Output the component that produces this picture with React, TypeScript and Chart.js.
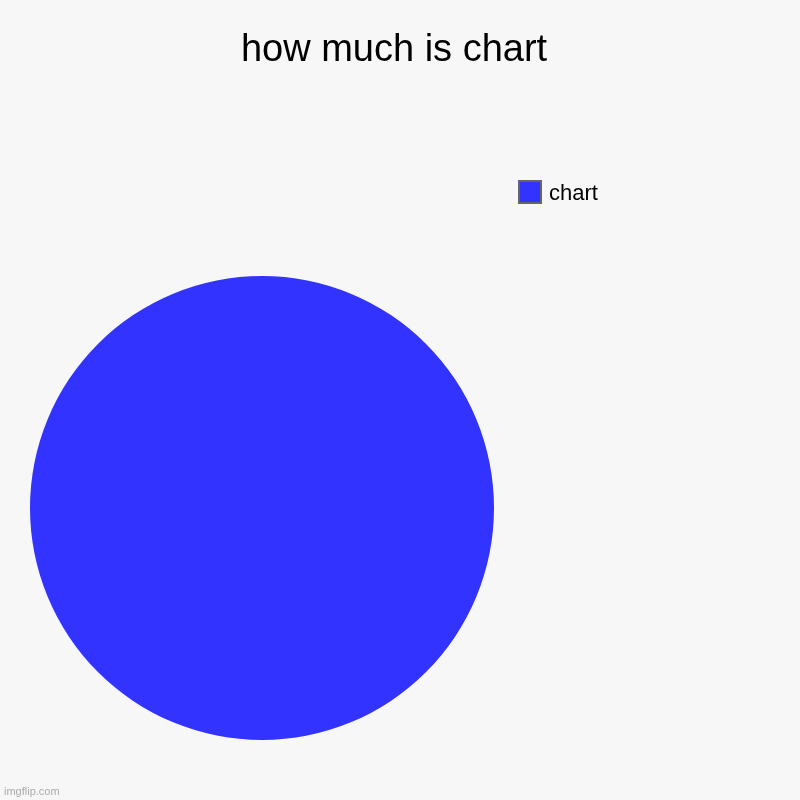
import React, { useEffect, useRef } from "react";
import { Chart, registerables, Plugin } from "chart.js";

Chart.register(...registerables);

const labels = ["chart"];
const values = [100];
const colors = ["#3333ff"];
const chartTitle = "how much is chart";
const watermark = "imgflip.com";

const FONT = "'Liberation Sans', Arial, Helvetica, sans-serif";

const imgflipPlugin: Plugin<"pie"> = {
  id: "imgflip",
  beforeDraw(chart) {
    const ctx = chart.ctx;
    ctx.save();
    ctx.fillStyle = "#f7f7f7";
    ctx.fillRect(0, 0, chart.width, chart.height);
    ctx.restore();
  },
  afterDraw(chart) {
    const ctx = chart.ctx;
    ctx.save();

    // title
    ctx.fillStyle = "#000";
    ctx.font = `38px ${FONT}`;
    ctx.textAlign = "center";
    ctx.textBaseline = "alphabetic";
    ctx.fillText(chartTitle, 394, 61);

    // legend
    const names = (chart.data.labels || []) as string[];
    const bg = chart.data.datasets[0].backgroundColor as string[];
    names.forEach((name, i) => {
      const y = 180 + i * 34;
      ctx.fillStyle = bg[i];
      ctx.fillRect(518, y, 24, 24);
      ctx.strokeStyle = "#666";
      ctx.lineWidth = 2;
      ctx.strokeRect(519, y + 1, 22, 22);
      ctx.fillStyle = "#000";
      ctx.font = `22px ${FONT}`;
      ctx.textAlign = "left";
      ctx.fillText(name, 549, y + 20);
    });

    // watermark
    ctx.fillStyle = "#aaa";
    ctx.font = `11px ${FONT}`;
    ctx.textAlign = "left";
    ctx.fillText(watermark, 4, 795);

    ctx.restore();
  },
};

const PieChart: React.FC = () => {
  const chartRef = useRef<HTMLCanvasElement | null>(null);

  useEffect(() => {
    if (!chartRef.current) return;
    const ctx = chartRef.current.getContext("2d");
    if (!ctx) return;

    const chart = new Chart(ctx, {
      type: "pie",
      data: {
        labels: labels,
        datasets: [
          {
            data: values,
            backgroundColor: colors,
            borderWidth: 0,
          },
        ],
      },
      options: {
        responsive: false,
        animation: false,
        layout: {
          padding: { left: 30, right: 306, top: 276, bottom: 60 },
        },
        plugins: {
          legend: { display: false },
          title: { display: false },
          tooltip: { enabled: false },
        },
      },
      plugins: [imgflipPlugin],
    });

    return () => {
      chart.destroy();
    };
  }, []);

  return <canvas ref={chartRef} width={800} height={800} />;
};

export default function App() {
  return (
    <div style={{ position: "absolute", top: 0, left: 0, width: 800, height: 800 }}>
      <PieChart />
    </div>
  );
}
